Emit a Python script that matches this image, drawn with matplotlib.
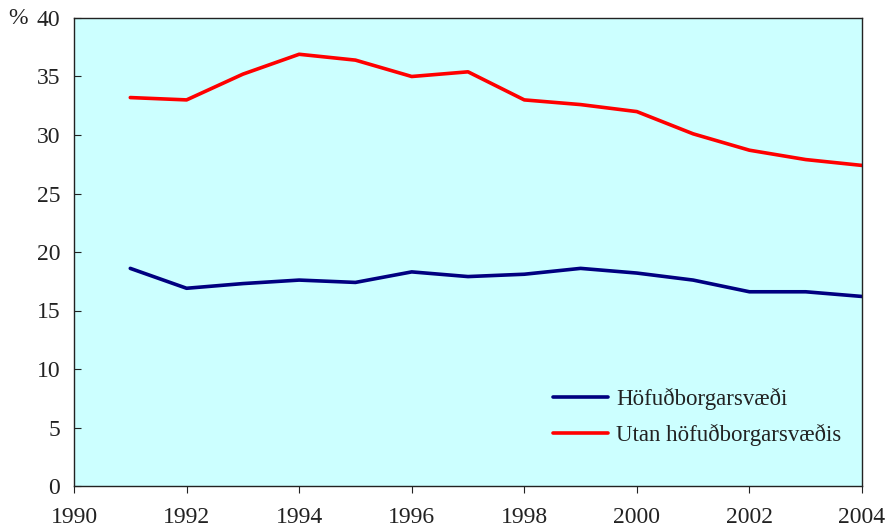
import matplotlib.pyplot as plt

years = list(range(1991, 2005))
hofudborgarsvaedi = [18.6, 16.9, 17.3, 17.6, 17.4, 18.3, 17.9, 18.1, 18.6, 18.2, 17.6, 16.6, 16.6, 16.2]
utan = [33.2, 33.0, 35.2, 36.9, 36.4, 35.0, 35.4, 33.0, 32.6, 32.0, 30.1, 28.7, 27.9, 27.4]
x_ticks = list(range(1990, 2005, 2))
y_ticks = list(range(0, 45, 5))

plt.rcParams['font.family'] = ['Liberation Serif', 'DejaVu Serif']

fig = plt.figure(figsize=(8.89, 5.28), dpi=100)
ax = fig.add_axes([74 / 889, 1 - 486 / 528, 788 / 889, 468 / 528])
ax.set_facecolor('#CCFFFF')

ax.plot(years, hofudborgarsvaedi, color='#000080', lw=2.6, label='Höfuðborgarsvæði', solid_capstyle='round')
ax.plot(years, utan, color='#FF0000', lw=2.6, label='Utan höfuðborgarsvæðis', solid_capstyle='round')

ax.set_xlim(1990, 2004)
ax.set_ylim(0, 40)
ax.set_xticks(x_ticks)
ax.set_yticks(y_ticks)
ax.tick_params(axis='y', direction='in', length=5, labelsize=17, colors='#222222', pad=10)
ax.tick_params(axis='x', direction='out', length=5, labelsize=17, colors='#222222', pad=10)
for s in ax.spines.values():
    s.set_color('#222222')
    s.set_linewidth(1.0)

ax.text(-0.084, 1.0, '%', transform=ax.transAxes, fontsize=17, color='#222222',
        ha='left', va='center')

leg = ax.legend(loc='lower left', bbox_to_anchor=(0.608, 0.085), frameon=False,
                fontsize=16.5, handlelength=2.4, handletextpad=0.35, labelspacing=0.6,
                borderpad=0, borderaxespad=0)
for t in leg.get_texts():
    t.set_color('#222222')

fig.savefig('out.png', dpi=100)
